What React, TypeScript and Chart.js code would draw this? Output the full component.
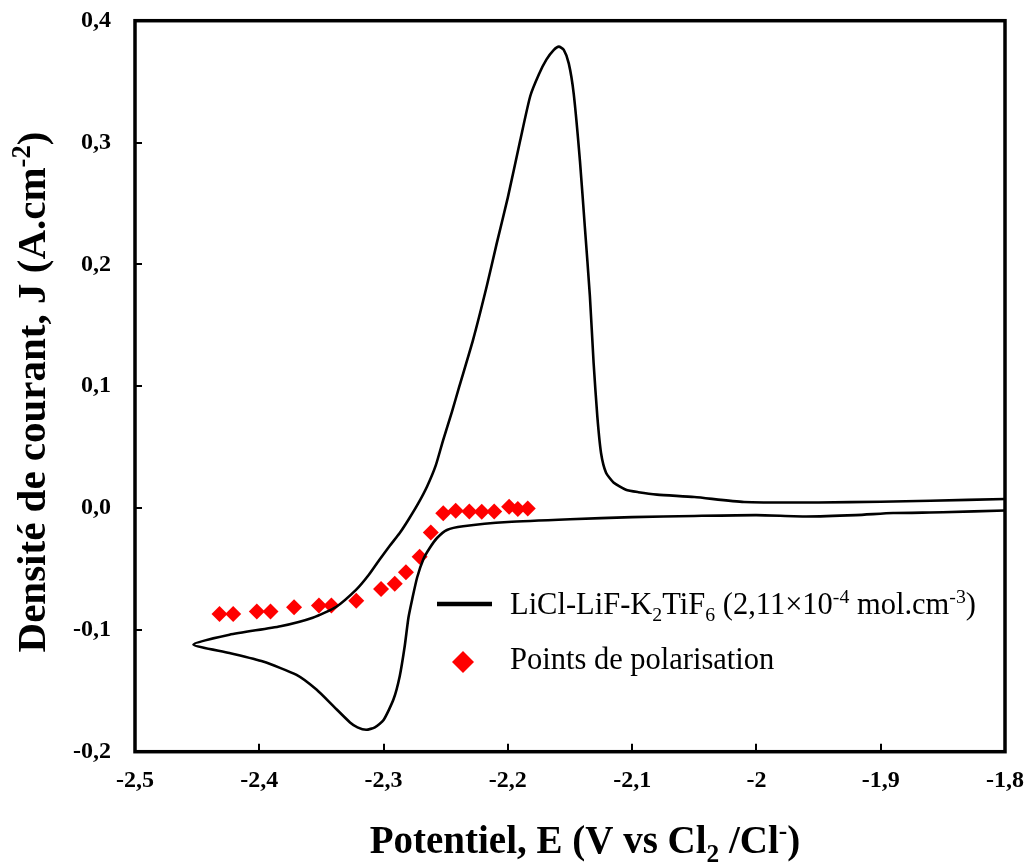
import React, { useEffect, useRef } from 'react';
import { Chart, registerables } from 'chart.js';

Chart.register(...registerables);

// ---- Data ----
// Cyclic voltammogram, in scan order: cathodic sweep (-1.8 -> -2.453) then anodic sweep back to -1.8
const cvPotential = [
  -1.80, -1.85, -1.89, -1.92, -1.96, -2.00, -2.05, -2.10, -2.15, -2.20,
  -2.236, -2.249, -2.257, -2.263, -2.268, -2.273, -2.277, -2.280, -2.283, -2.287,
  -2.292, -2.300, -2.307, -2.314, -2.321, -2.327, -2.340, -2.354, -2.370, -2.397,
  -2.424, -2.453,
  -2.424, -2.383, -2.357, -2.338, -2.322, -2.312, -2.303, -2.295, -2.287, -2.280,
  -2.272, -2.265, -2.258, -2.252, -2.245, -2.239, -2.228, -2.217, -2.209, -2.200,
  -2.190, -2.182, -2.175, -2.169, -2.163, -2.159, -2.155, -2.151, -2.147, -2.142,
  -2.138, -2.134, -2.131, -2.128, -2.125, -2.121, -2.115, -2.105, -2.095, -2.080,
  -2.050, -2.010, -1.950, -1.900, -1.860, -1.800,
];
const cvCurrent = [
  -0.0020, -0.0035, -0.0041, -0.0058, -0.0069, -0.0058, -0.0065, -0.0075, -0.0092, -0.0115,
  -0.0150, -0.0180, -0.0246, -0.0330, -0.0420, -0.0570, -0.0750, -0.0900, -0.1135, -0.1380,
  -0.1570, -0.1740, -0.1800, -0.1820, -0.1800, -0.1760, -0.1630, -0.1490, -0.1370, -0.1260,
  -0.1190, -0.1120,
  -0.1040, -0.0970, -0.0900, -0.0810, -0.0670, -0.0550, -0.0420, -0.0310, -0.0205, -0.0096,
  0.0040, 0.0177, 0.0350, 0.0560, 0.0790, 0.1000, 0.1380, 0.1820, 0.2170, 0.2550,
  0.3020, 0.3380, 0.3560, 0.3680, 0.3760, 0.3787, 0.3760, 0.3650, 0.3400, 0.2850,
  0.2300, 0.1740, 0.1190, 0.0750, 0.0450, 0.0290, 0.0210, 0.0150, 0.0130, 0.0110,
  0.0090, 0.0050, 0.0046, 0.0052, 0.0060, 0.0074,
];

// Polarisation points
const polPotential = [
  -2.432, -2.421, -2.402, -2.391, -2.372, -2.352, -2.342, -2.322, -2.302, -2.291,
  -2.282, -2.271, -2.262, -2.252, -2.242, -2.231, -2.221, -2.211, -2.199, -2.192, -2.184,
];
const polCurrent = [
  -0.087, -0.087, -0.085, -0.085, -0.0815, -0.080, -0.080, -0.076, -0.0664, -0.0621,
  -0.0527, -0.040, -0.020, -0.0043, -0.0022, -0.0028, -0.003, -0.0028, 0.001, -0.0008, -0.0004,
];

const xTickValues = [-2.5, -2.4, -2.3, -2.2, -2.1, -2.0, -1.9, -1.8];
const xTickLabels = ['-2,5', '-2,4', '-2,3', '-2,2', '-2,1', '-2', '-1,9', '-1,8'];
const yTickValues = [-0.2, -0.1, 0.0, 0.1, 0.2, 0.3, 0.4];
const yTickLabels = ['-0,2', '-0,1', '0,0', '0,1', '0,2', '0,3', '0,4'];

type Seg = { t: string; s?: 'sub' | 'sup' };
const xTitle: Seg[] = [{ t: 'Potentiel, E (V vs Cl' }, { t: '2', s: 'sub' }, { t: ' /Cl' }, { t: '-', s: 'sup' }, { t: ')' }];
const yTitle: Seg[] = [{ t: 'Densité de courant, J (A.cm' }, { t: '-2', s: 'sup' }, { t: ')' }];
const legendCV: Seg[] = [
  { t: 'LiCl-LiF-K' }, { t: '2', s: 'sub' }, { t: 'TiF' }, { t: '6', s: 'sub' },
  { t: ' (2,11×10' }, { t: '-4', s: 'sup' }, { t: ' mol.cm' }, { t: '-3', s: 'sup' }, { t: ')' },
];
const legendPol: Seg[] = [{ t: 'Points de polarisation' }];

const FAMILY = '"Liberation Serif", "Times New Roman", Times, serif';

function drawRich(
  ctx: CanvasRenderingContext2D, segs: Seg[], x: number, y: number,
  size: number, weight: string, align: 'left' | 'center'
) {
  const fontFor = (s?: string) => `${weight} ${s ? size * 0.65 : size}px ${FAMILY}`;
  let total = 0;
  for (const seg of segs) {
    ctx.font = fontFor(seg.s);
    total += ctx.measureText(seg.t).width;
  }
  let cx = align === 'center' ? x - total / 2 : x;
  ctx.textAlign = 'left';
  ctx.textBaseline = 'alphabetic';
  for (const seg of segs) {
    ctx.font = fontFor(seg.s);
    const dy = seg.s === 'sub' ? size * 0.22 : seg.s === 'sup' ? -size * 0.36 : 0;
    ctx.fillText(seg.t, cx, y + dy);
    cx += ctx.measureText(seg.t).width;
  }
}

const decorPlugin = {
  id: 'decor',
  afterDraw(chart: any) {
    const { ctx, chartArea } = chart;
    const { left, right, top, bottom } = chartArea;
    const xs = chart.scales.x;
    const ys = chart.scales.y;
    ctx.save();
    ctx.fillStyle = '#000';
    ctx.strokeStyle = '#000';
    // ticks (inside)
    ctx.lineWidth = 2;
    ctx.beginPath();
    xTickValues.forEach((v) => {
      const px = Math.round(xs.getPixelForValue(v));
      ctx.moveTo(px, bottom);
      ctx.lineTo(px, bottom - 8);
    });
    yTickValues.forEach((v) => {
      const py = Math.round(ys.getPixelForValue(v));
      ctx.moveTo(left, py);
      ctx.lineTo(left + 7, py);
    });
    ctx.stroke();
    // frame
    ctx.lineWidth = 3.5;
    ctx.strokeRect(left, top, right - left, bottom - top);

    // axis titles
    drawRich(ctx, xTitle, 585, 853, 39, 'bold', 'center');
    ctx.save();
    ctx.translate(45, 392);
    ctx.rotate(-Math.PI / 2);
    drawRich(ctx, yTitle, 0, 0, 41, 'bold', 'center');
    ctx.restore();

    // legend
    ctx.lineWidth = 4.5;
    ctx.beginPath();
    ctx.moveTo(437, 604);
    ctx.lineTo(492, 604);
    ctx.stroke();
    drawRich(ctx, legendCV, 510, 614, 30.5, 'normal', 'left');

    ctx.fillStyle = '#ff0000';
    ctx.beginPath();
    const cx = 463, cy = 662, r = 11;
    ctx.moveTo(cx, cy - r);
    ctx.lineTo(cx + r, cy);
    ctx.lineTo(cx, cy + r);
    ctx.lineTo(cx - r, cy);
    ctx.closePath();
    ctx.fill();
    ctx.fillStyle = '#000';
    drawRich(ctx, legendPol, 510, 669, 30.5, 'normal', 'left');
    ctx.restore();
  },
};

const clearScalePadding = (scale: any) => {
  scale.paddingTop = 0;
  scale.paddingBottom = 0;
  scale.paddingLeft = 0;
  scale.paddingRight = 0;
};

export default function App() {
  const canvasRef = useRef<HTMLCanvasElement | null>(null);

  useEffect(() => {
    document.body.style.margin = '0';
    const canvas = canvasRef.current;
    if (!canvas) return;
    const chart = new Chart(canvas, {
      type: 'scatter',
      data: {
        datasets: [
          {
            label: 'LiCl-LiF-K2TiF6 (2,11×10-4 mol.cm-3)',
            data: cvPotential.map((x, i) => ({ x, y: cvCurrent[i] })),
            showLine: true,
            borderColor: '#000000',
            borderWidth: 2.6,
            pointRadius: 0,
            tension: 0.2,
            fill: false,
          },
          {
            label: 'Points de polarisation',
            data: polPotential.map((x, i) => ({ x, y: polCurrent[i] })),
            pointStyle: 'rectRot',
            pointRadius: 8,
            backgroundColor: '#ff0000',
            borderColor: '#ff0000',
            borderWidth: 0,
          },
        ],
      },
      options: {
        responsive: false,
        animation: false,
        layout: { padding: { top: 20.7, right: 25, left: 0, bottom: 0 } },
        plugins: {
          legend: { display: false },
          tooltip: { enabled: false },
          title: { display: false },
        },
        scales: {
          x: {
            type: 'linear',
            min: -2.5,
            max: -1.8,
            afterBuildTicks: (scale: any) => {
              scale.ticks = xTickValues.map((v) => ({ value: v }));
            },
            afterFit: (scale: any) => {
              scale.height = 863 - 751.7;
              clearScalePadding(scale);
            },
            grid: { display: false, drawTicks: false },
            border: { display: false },
            ticks: {
              padding: 15,
              color: '#000',
              font: { family: FAMILY, size: 24, weight: 'bold' },
              callback: (_v: any, i: number) => xTickLabels[i],
              maxRotation: 0,
              autoSkip: false,
            },
          },
          y: {
            type: 'linear',
            min: -0.2,
            max: 0.4,
            afterBuildTicks: (scale: any) => {
              scale.ticks = yTickValues.map((v) => ({ value: v }));
            },
            afterFit: (scale: any) => {
              scale.width = 135;
              clearScalePadding(scale);
            },
            grid: { display: false, drawTicks: false },
            border: { display: false },
            ticks: {
              padding: 24,
              color: '#000',
              font: { family: FAMILY, size: 24, weight: 'bold' },
              callback: (_v: any, i: number) => yTickLabels[i],
              autoSkip: false,
            },
          },
        },
      },
      plugins: [decorPlugin],
    } as any);
    return () => chart.destroy();
  }, []);

  return (
    <div style={{ width: 1030, height: 863, background: '#fff' }}>
      <canvas ref={canvasRef} width={1030} height={863} style={{ display: 'block' }} />
    </div>
  );
}
